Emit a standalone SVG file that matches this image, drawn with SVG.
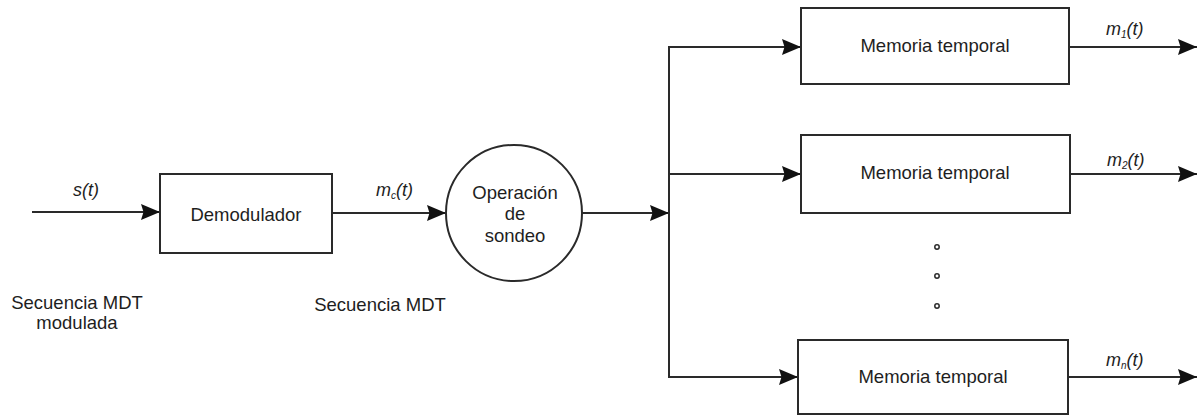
<svg xmlns="http://www.w3.org/2000/svg" width="1198" height="417" viewBox="0 0 1198 417">
  <style>
    .box { fill: #ffffff; stroke: #2a2a2a; stroke-width: 2; }
    .wire { fill: none; stroke: #2a2a2a; stroke-width: 2; }
    .lbl { font-family: "Liberation Sans", Arial, sans-serif; font-size: 18.5px; fill: #1e1e1e; }
    .sig { font-family: "Liberation Sans", Arial, sans-serif; font-size: 18px; font-style: italic; fill: #1e1e1e; }
    .sub { font-size: 10px; }
    .dot { fill: none; stroke: #2a2a2a; stroke-width: 1.5; }
  </style>
  <defs>
    <marker id="arrow" markerUnits="userSpaceOnUse" markerWidth="19" markerHeight="17" refX="19" refY="8.5" orient="auto">
      <path d="M0,0.5 L19,8.5 L0,16.5 L2.5,8.5 z" fill="#111111"/>
    </marker>
  </defs>

  <rect width="1198" height="417" fill="#ffffff"/>

  <!-- connectors -->
  <g id="connectors">
    <line class="wire" x1="32" y1="212" x2="160" y2="212" marker-end="url(#arrow)"/>
    <line class="wire" x1="332" y1="213" x2="446" y2="213" marker-end="url(#arrow)"/>
    <line class="wire" x1="582" y1="213" x2="669" y2="213" marker-end="url(#arrow)"/>
    <line class="wire" x1="669" y1="47" x2="669" y2="377"/>
    <line class="wire" x1="668" y1="47" x2="801" y2="47" marker-end="url(#arrow)"/>
    <line class="wire" x1="668" y1="174" x2="801" y2="174" marker-end="url(#arrow)"/>
    <line class="wire" x1="668" y1="377" x2="798" y2="377" marker-end="url(#arrow)"/>
    <line class="wire" x1="1069" y1="47" x2="1197" y2="47" marker-end="url(#arrow)"/>
    <line class="wire" x1="1070" y1="174" x2="1197" y2="174" marker-end="url(#arrow)"/>
    <line class="wire" x1="1068" y1="377" x2="1197" y2="377" marker-end="url(#arrow)"/>
  </g>

  <!-- signal labels -->
  <g id="signal-labels">
    <text class="sig" x="86" y="196" text-anchor="middle">s(t)</text>
    <text class="sig" x="376" y="196">m<tspan class="sub" dy="3">c</tspan><tspan dy="-3">(t)</tspan></text>
    <text class="sig" x="1106" y="35">m<tspan class="sub" dy="3">1</tspan><tspan dy="-3">(t)</tspan></text>
    <text class="sig" x="1107" y="166">m<tspan class="sub" dy="3">2</tspan><tspan dy="-3">(t)</tspan></text>
    <text class="sig" x="1106" y="366">m<tspan class="sub" dy="3">n</tspan><tspan dy="-3">(t)</tspan></text>
    <text class="lbl" x="77" y="309" text-anchor="middle">Secuencia MDT</text>
    <text class="lbl" x="77" y="329" text-anchor="middle">modulada</text>
    <text class="lbl" x="380" y="311" text-anchor="middle">Secuencia MDT</text>
  </g>

  <g id="demodulador">
    <rect class="box" x="160" y="174" width="172" height="79"/>
    <text class="lbl" x="246" y="221" text-anchor="middle">Demodulador</text>
  </g>

  <g id="sondeo">
    <circle class="box" cx="514" cy="213" r="68"/>
    <text class="lbl" x="515" y="199" text-anchor="middle">Operación</text>
    <text class="lbl" x="515" y="220" text-anchor="middle">de</text>
    <text class="lbl" x="515" y="242" text-anchor="middle">sondeo</text>
  </g>

  <g id="memoria-1">
    <rect class="box" x="801" y="8" width="268" height="76"/>
    <text class="lbl" x="935" y="52" text-anchor="middle">Memoria temporal</text>
  </g>

  <g id="memoria-2">
    <rect class="box" x="801" y="135" width="269" height="78"/>
    <text class="lbl" x="935" y="179" text-anchor="middle">Memoria temporal</text>
  </g>

  <g id="ellipsis">
    <circle class="dot" cx="937" cy="247" r="2.2"/>
    <circle class="dot" cx="937" cy="276" r="2.2"/>
    <circle class="dot" cx="937" cy="306" r="2.2"/>
  </g>

  <g id="memoria-n">
    <rect class="box" x="798" y="340" width="270" height="74"/>
    <text class="lbl" x="933" y="383" text-anchor="middle">Memoria temporal</text>
  </g>
</svg>
